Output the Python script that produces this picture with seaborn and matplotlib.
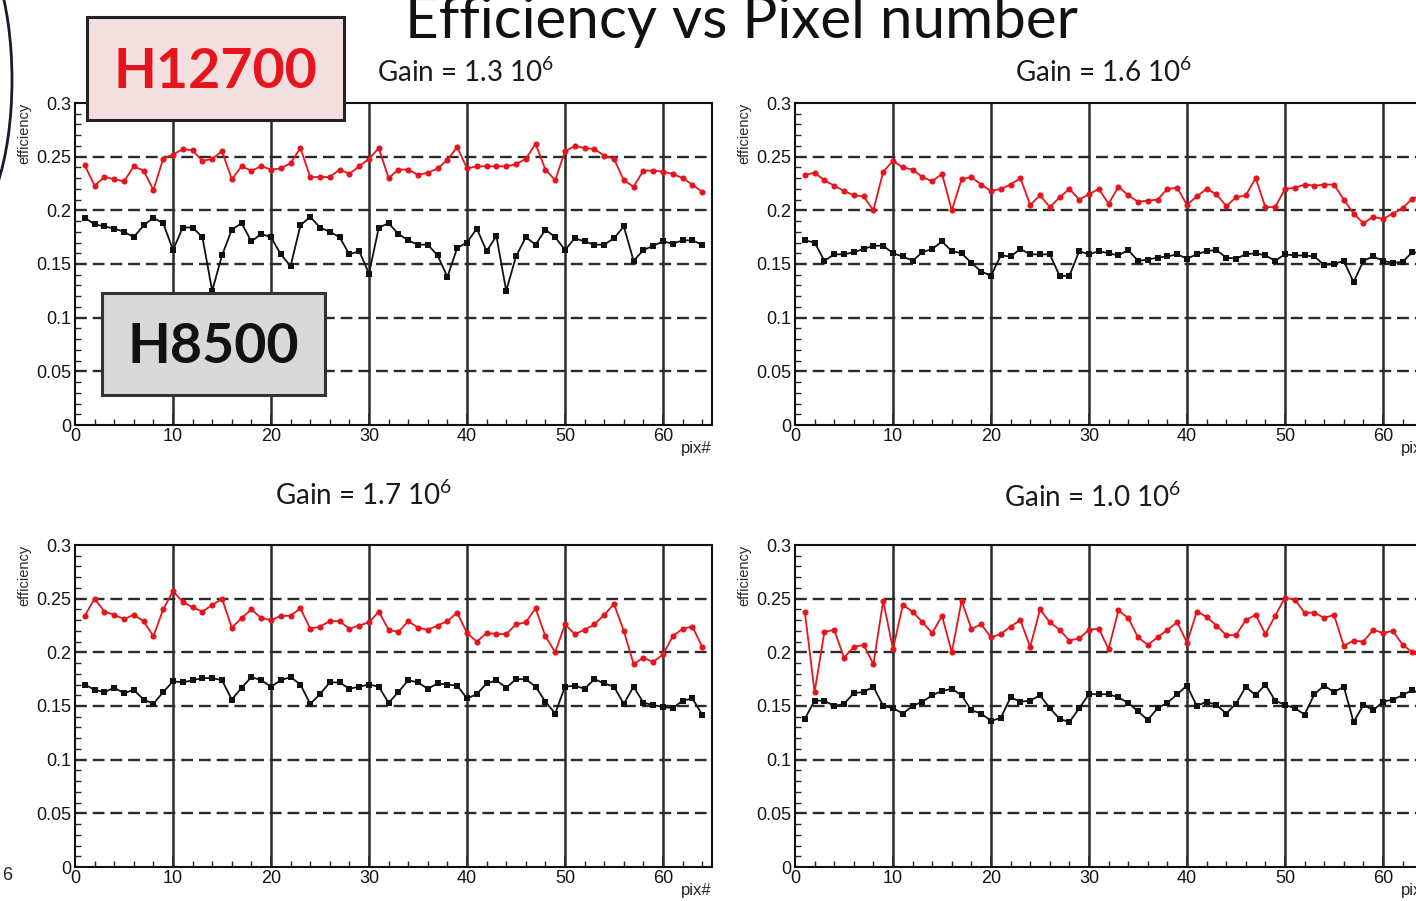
import numpy as np
import pandas as pd
import matplotlib
matplotlib.use("Agg")
import matplotlib.pyplot as plt
import seaborn as sns
from matplotlib.patches import Rectangle, Arc
from matplotlib.ticker import MultipleLocator

sns.set_style("white")
plt.rcParams["font.family"] = ["Liberation Sans", "DejaVu Sans"]

pix = list(range(1, 65))
gain_titles = ["Gain = 1.3 10$^{\\mathregular{6}}$", "Gain = 1.6 10$^{\\mathregular{6}}$",
               "Gain = 1.7 10$^{\\mathregular{6}}$", "Gain = 1.0 10$^{\\mathregular{6}}$"]
ytick_vals = [0, 0.05, 0.1, 0.15, 0.2, 0.25, 0.3]
ytick_labels = ["0", "0.05", "0.1", "0.15", "0.2", "0.25", "0.3"]
xtick_vals = [0, 10, 20, 30, 40, 50, 60]
xtick_labels = ["0", "10", "20", "30", "40", "50", "60"]

h12700_g13 = [0.242, 0.223, 0.231, 0.229, 0.227, 0.241, 0.237, 0.219, 0.248, 0.252,
              0.257, 0.256, 0.246, 0.248, 0.255, 0.229, 0.241, 0.237, 0.241, 0.238,
              0.239, 0.244, 0.258, 0.231, 0.231, 0.231, 0.238, 0.234, 0.241, 0.248,
              0.258, 0.230, 0.238, 0.238, 0.233, 0.235, 0.239, 0.247, 0.259, 0.239,
              0.241, 0.241, 0.241, 0.241, 0.243, 0.248, 0.262, 0.238, 0.228, 0.255,
              0.260, 0.258, 0.257, 0.251, 0.248, 0.228, 0.222, 0.237, 0.237, 0.236,
              0.234, 0.230, 0.224, 0.217]
h8500_g13 = [0.193, 0.187, 0.185, 0.183, 0.180, 0.175, 0.186, 0.193, 0.188, 0.163,
             0.184, 0.184, 0.175, 0.125, 0.158, 0.182, 0.188, 0.171, 0.178, 0.175,
             0.159, 0.148, 0.186, 0.194, 0.184, 0.180, 0.175, 0.159, 0.162, 0.141,
             0.184, 0.188, 0.178, 0.172, 0.168, 0.168, 0.158, 0.138, 0.165, 0.170,
             0.183, 0.162, 0.176, 0.125, 0.157, 0.175, 0.168, 0.182, 0.175, 0.163,
             0.174, 0.171, 0.168, 0.168, 0.174, 0.185, 0.153, 0.163, 0.167, 0.171,
             0.169, 0.172, 0.172, 0.168]
h12700_g16 = [0.233, 0.235, 0.228, 0.223, 0.218, 0.214, 0.213, 0.200, 0.236, 0.246,
              0.240, 0.238, 0.231, 0.227, 0.234, 0.200, 0.229, 0.231, 0.224, 0.218,
              0.220, 0.224, 0.230, 0.205, 0.214, 0.203, 0.212, 0.220, 0.210, 0.215,
              0.220, 0.206, 0.222, 0.214, 0.208, 0.209, 0.210, 0.220, 0.221, 0.205,
              0.213, 0.220, 0.215, 0.204, 0.212, 0.214, 0.230, 0.203, 0.203, 0.220,
              0.221, 0.224, 0.223, 0.224, 0.224, 0.210, 0.197, 0.188, 0.194, 0.192,
              0.197, 0.202, 0.211, 0.214]
h8500_g16 = [0.172, 0.170, 0.153, 0.159, 0.159, 0.161, 0.164, 0.167, 0.167, 0.160,
             0.157, 0.153, 0.161, 0.164, 0.171, 0.162, 0.160, 0.151, 0.143, 0.139,
             0.158, 0.157, 0.164, 0.159, 0.159, 0.159, 0.139, 0.139, 0.162, 0.159,
             0.162, 0.160, 0.158, 0.163, 0.153, 0.154, 0.156, 0.157, 0.159, 0.155,
             0.159, 0.162, 0.163, 0.156, 0.155, 0.159, 0.160, 0.158, 0.153, 0.159,
             0.158, 0.158, 0.157, 0.149, 0.150, 0.153, 0.133, 0.153, 0.157, 0.153,
             0.151, 0.152, 0.161, 0.160]
h12700_g17 = [0.234, 0.250, 0.238, 0.235, 0.231, 0.235, 0.229, 0.215, 0.240, 0.257,
              0.247, 0.242, 0.238, 0.244, 0.250, 0.223, 0.232, 0.240, 0.232, 0.230,
              0.234, 0.234, 0.241, 0.222, 0.224, 0.229, 0.229, 0.222, 0.225, 0.228,
              0.238, 0.221, 0.219, 0.229, 0.223, 0.221, 0.225, 0.229, 0.237, 0.218,
              0.210, 0.218, 0.217, 0.217, 0.226, 0.228, 0.241, 0.215, 0.200, 0.226,
              0.217, 0.221, 0.226, 0.235, 0.245, 0.220, 0.189, 0.195, 0.191, 0.198,
              0.215, 0.222, 0.224, 0.205]
h8500_g17 = [0.170, 0.165, 0.163, 0.167, 0.162, 0.165, 0.156, 0.152, 0.163, 0.173,
             0.172, 0.174, 0.176, 0.176, 0.174, 0.156, 0.167, 0.177, 0.174, 0.168,
             0.174, 0.177, 0.170, 0.152, 0.161, 0.172, 0.172, 0.166, 0.168, 0.170,
             0.168, 0.153, 0.163, 0.174, 0.172, 0.166, 0.171, 0.170, 0.169, 0.157,
             0.161, 0.171, 0.174, 0.167, 0.175, 0.175, 0.168, 0.154, 0.143, 0.168,
             0.169, 0.166, 0.175, 0.171, 0.168, 0.152, 0.168, 0.153, 0.151, 0.149,
             0.148, 0.155, 0.157, 0.142]
h12700_g10 = [0.238, 0.163, 0.219, 0.221, 0.195, 0.205, 0.207, 0.189, 0.248, 0.203,
              0.244, 0.238, 0.228, 0.218, 0.234, 0.200, 0.248, 0.222, 0.226, 0.214,
              0.217, 0.224, 0.230, 0.205, 0.240, 0.228, 0.221, 0.211, 0.213, 0.221,
              0.222, 0.203, 0.239, 0.232, 0.214, 0.207, 0.214, 0.221, 0.228, 0.209,
              0.238, 0.233, 0.225, 0.216, 0.216, 0.230, 0.235, 0.217, 0.234, 0.251,
              0.249, 0.237, 0.237, 0.232, 0.235, 0.206, 0.211, 0.210, 0.221, 0.218,
              0.220, 0.207, 0.200, 0.195]
h8500_g10 = [0.138, 0.155, 0.155, 0.150, 0.152, 0.162, 0.163, 0.168, 0.150, 0.148,
             0.143, 0.150, 0.154, 0.160, 0.164, 0.166, 0.160, 0.146, 0.143, 0.136,
             0.139, 0.158, 0.154, 0.155, 0.160, 0.148, 0.138, 0.135, 0.148, 0.161,
             0.161, 0.161, 0.158, 0.153, 0.145, 0.137, 0.148, 0.153, 0.161, 0.169,
             0.150, 0.154, 0.151, 0.143, 0.152, 0.168, 0.160, 0.170, 0.155, 0.151,
             0.148, 0.142, 0.161, 0.169, 0.163, 0.168, 0.135, 0.151, 0.146, 0.154,
             0.156, 0.160, 0.165, 0.160]

red_series = [h12700_g13, h12700_g16, h12700_g17, h12700_g10]
black_series = [h8500_g13, h8500_g16, h8500_g17, h8500_g10]

W, H = 1416, 901
fig = plt.figure(figsize=(W / 100, H / 100), dpi=100)
fig.patch.set_facecolor("white")


def fx(px):
    return px / W


def fy(py):
    return 1 - py / H


# axes rectangles in pixel coords (left, top, right, bottom)
boxes = [(75, 103, 712, 425), (795, 103, 1432, 425),
         (75, 545, 712, 867), (795, 545, 1432, 867)]
title_pos = [(466, 82), (1104, 82), (364, 505), (1093, 507)]

axes = []
for i, (l, t, r, b) in enumerate(boxes):
    ax = fig.add_axes([fx(l), fy(b), (r - l) / W, (b - t) / H])
    axes.append(ax)
    df = pd.DataFrame({"pix": pix, "H12700": red_series[i], "H8500": black_series[i]})
    sns.lineplot(data=df, x="pix", y="H12700", ax=ax, color="#e8141c", lw=1.3,
                 marker="o", markersize=4.4, markeredgewidth=0, zorder=4)
    sns.lineplot(data=df, x="pix", y="H8500", ax=ax, color="#111111", lw=1.3,
                 marker="s", markersize=3.9, markeredgewidth=0, zorder=4)
    ax.set_xlim(0, 65)
    ax.set_ylim(0, 0.3)
    ax.set_xticks(xtick_vals, xtick_labels)
    ax.set_yticks(ytick_vals, ytick_labels)
    ax.xaxis.set_minor_locator(MultipleLocator(2))
    ax.yaxis.set_minor_locator(MultipleLocator(0.01))
    ax.tick_params(axis="both", which="major", direction="in", length=8, width=1.2,
                   labelsize=13, labelcolor="#151515", pad=2.5, left=True, bottom=True,
                   top=False, right=False)
    ax.tick_params(axis="both", which="minor", direction="in", length=4.5, width=1.0,
                   left=True, bottom=True, top=False, right=False)
    for v in xtick_vals[1:]:
        ax.axvline(v, color="#2a2a2a", lw=1.8, zorder=1)
    for v in ytick_vals[1:-1]:
        ax.axhline(v, color="#2a2a2a", lw=1.7, dashes=(5, 2.5), zorder=1)
    for s in ax.spines.values():
        s.set_linewidth(1.5)
        s.set_color("#111111")
    ax.set_xlabel("pix#", loc="right", fontsize=12)
    ax.xaxis.set_label_coords(1.0, -0.05)
    ax.set_ylabel("efficiency", loc="top", fontsize=10.5)
    ax.yaxis.set_label_coords(-0.068, 1.0)
    ax.set_facecolor("white")
    tx, ty = title_pos[i]
    fig.text(fx(tx), fy(ty), gain_titles[i], ha="center", va="baseline",
             fontsize=20, family=["Lato", "DejaVu Sans"], color="#1a1a1a")

# main title
fig.text(fx(741), fy(38), "Efficiency vs Pixel number", ha="center", va="baseline",
         fontsize=42, family=["Lato", "DejaVu Sans"], color="#111111")

# label boxes
fig.add_artist(Rectangle((fx(87), fy(120)), (344 - 87) / W, (120 - 17) / H,
                         transform=fig.transFigure, facecolor="#f3dfdf",
                         edgecolor="#222222", lw=2.2, zorder=10))
fig.text(fx(215), fy(72), "H12700", ha="center", va="center", fontsize=40,
         fontweight="bold", family=["Lato", "DejaVu Sans"], color="#e8141c", zorder=11)
fig.add_artist(Rectangle((fx(102), fy(395)), (325 - 102) / W, (395 - 293) / H,
                         transform=fig.transFigure, facecolor="#d9d9d9",
                         edgecolor="#333333", lw=2.2, zorder=10))
fig.text(fx(213), fy(347), "H8500", ha="center", va="center", fontsize=40,
         fontweight="bold", family=["Lato", "DejaVu Sans"], color="#111111", zorder=11)

# slide decorations
fig.add_artist(Arc((fx(-40), fy(80)), 104 / W, 300 / H, transform=fig.transFigure,
                   theta1=-90, theta2=90, color="#1a1a2a", lw=2.0))
fig.text(fx(2), fy(880), "6", fontsize=13, color="#222222")

fig.savefig("out.png", dpi=100)
